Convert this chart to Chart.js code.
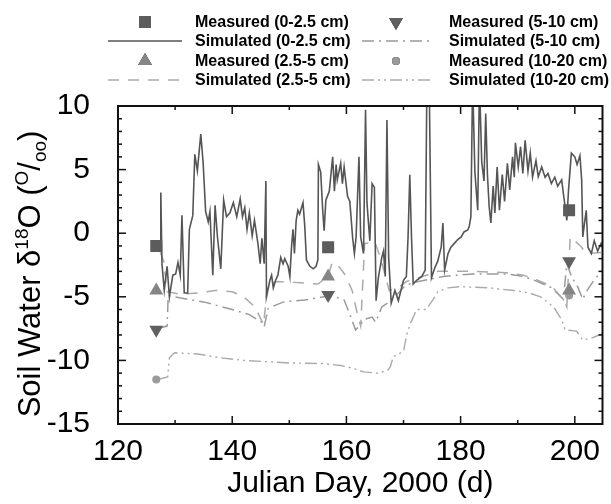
<!DOCTYPE html>
<html lang="en">
<head>
<meta charset="UTF-8">
<title>Soil Water d18O</title>
<script src="https://cdn.jsdelivr.net/npm/chart.js"></script>
<style>
  body { margin: 0; background: #fff; }
</style>
</head>
<body>
<canvas id="soilChart" width="611" height="504"></canvas>
<script>
// axis ticks
const xTicks = [120, 140, 160, 180, 200];
const yTicks = [-15, -10, -5, 0, 5, 10];

// measured values (three sampling days)
const measuredDays = [126.7, 156.8, 199.0];
const meas0to25 = [-1.0, -1.1, 1.8];
const meas25to5 = [-4.5, -3.4, -4.5];
const meas5to10 = [-7.6, -4.85, -2.2];
const meas10to20 = [-11.5, null, -4.9];

// simulated 0-2.5 cm
const sim0Days = [127.4,127.5,127.7,128.1,128.6,129.0,129.6,130.1,130.5,130.9,131.2,131.6,132.2,132.5,133.1,133.45,133.9,134.5,134.9,135.35,
  135.8,136.1,136.6,137.0,137.4,138.0,138.5,139.0,139.6,140.2,140.8,141.4,141.8,142.2,142.6,143.0,143.5,143.9,144.5,144.9,
  145.2,145.6,145.9,146.0,146.6,146.9,147.2,147.6,148.0,148.5,148.9,149.2,149.8,150.1,150.4,150.65,150.9,151.2,151.5,151.8,
  152.4,152.7,153.0,153.6,154.2,154.7,155.0,155.1,155.5,155.85,156.1,156.4,157.0,157.6,157.9,158.2,158.4,159.0,159.3,159.6,
  160.2,160.6,161.1,161.4,161.7,162.2,162.5,163.0,163.35,163.6,164.1,164.5,164.9,165.2,165.6,166.2,166.5,166.8,167.1,167.4,
  167.85,168.5,169.1,170.0,170.5,170.8,171.1,171.4,171.7,172.3,173.2,173.8,174.1,174.5,174.9,175.5,176.0,176.6,176.9,177.2,
  177.8,178.3,178.9,179.5,180.1,180.6,181.25,181.5,181.8,182.1,182.5,183.0,183.3,183.7,184.1,184.4,184.7,185.0,185.3,185.7,
  186.0,186.4,186.8,187.3,187.7,188.2,188.6,189.1,189.4,189.6,190.1,190.5,190.9,191.3,191.8,192.2,192.6,193.2,193.6,194.2,
  194.8,195.3,195.9,196.5,197.0,197.7,198.0,198.4,198.6,198.9,199.4,200.0,200.4,200.9,201.2,201.4,201.7,202.0,202.3,202.9,
  203.4,204.0,204.6,204.9];
const sim0Vals = [-1.0,3.2,-2.4,-4.5,-2.6,-5.0,-3.3,-3.2,-2.3,-3.3,1.4,-4.7,-4.7,0.3,1.4,6.2,4.9,7.8,5.6,1.7,
  0.9,1.7,-3.3,2.2,-0.2,-2.8,2.6,1.3,1.6,2.4,1.3,2.7,1.3,2.0,0.3,1.6,-0.2,1.0,-0.8,-2.4,
  -0.4,-2.4,4.1,-5.0,-3.7,-3.3,-4.3,-3.7,-3.3,-1.9,-2.4,-2.0,-2.6,-3.4,-1.0,0.3,-1.6,1.0,1.8,1.5,
  2.4,0.6,-2.1,-2.6,-2.8,-2.6,-2.1,5.4,4.8,1.8,0.2,2.6,3.3,6.0,3.3,5.4,4.2,5.5,3.9,5.2,
  2.9,2.5,-0.4,-1.6,-0.3,6.0,-0.3,-1.6,9.7,2.4,-0.6,3.9,3.6,-5.3,-3.5,-1.9,-1.4,-3.4,8.9,-1.9,
  -5.5,-4.5,-5.3,-3.7,-3.4,-0.3,4.6,-0.3,-4.0,-3.7,-3.4,-2.9,12,12,-3.5,-2.7,-2.2,-1.1,0.8,-2.9,
  -1.6,-1.1,-0.8,-0.5,-0.3,0.1,0.25,0.5,1.3,12,4.8,1.8,12,5.6,4.1,9.4,4.6,2.1,0.8,3.7,
  1.6,5.2,1.8,4.6,2.5,5.5,3.4,6.0,4.4,7.1,5.2,6.8,4.7,7.3,4.9,6.3,4.4,5.7,4.45,5.2,
  4.4,4.7,3.9,4.4,3.7,4.2,3.1,1.8,1.0,3.4,6.3,6.0,5.4,6.1,4.2,-0.3,0.8,1.8,-1.1,-1.6,
  -0.6,-1.4,-0.8,-1.2];

// simulated 2.5-5 cm
const sim25Days = [127.4,128.0,128.6,131,134,137,140,142,144,145.5,146.2,148,152,155,156.8,157.5,158.5,159.8,161,162,
  162.5,163.2,165,166,167.5,169,170.5,172,174,176,182,188,191,193.5,196,198,198.6,199.2,201,202,204.9];
const sim25Vals = [-1.5,-2.2,-4.6,-4.8,-4.7,-4.5,-4.6,-5.0,-5.8,-7.2,-4.0,-3.8,-3.9,-4.0,-3.4,-2.3,-2.5,-3.3,-4.5,-6.5,
  -7.3,-0.8,-0.7,-2.0,-4.5,-4.3,-3.8,-3.6,-3.3,-3.0,-3.0,-3.1,-3.3,-3.7,-4.2,-5.2,-5.8,-0.3,-1.0,-1.6,-1.5];

// simulated 5-10 cm
const sim5Days = [126.9,128.6,128.8,131,135,140,143,145.2,145.6,146.3,149,152.7,156,158,159.6,160.7,161.6,162.5,163,164.5,
  165.1,166.2,168,170.3,172.6,177,182,188,191,193.5,196,198,198.6,199.5,200.5,201.4,202,203.5,204.9];
const sim5Vals = [-7.5,-7.3,-4.9,-5.1,-5.4,-6.0,-6.4,-7.0,-7.35,-5.9,-5.4,-5.25,-5.0,-5.0,-5.25,-6.5,-7.6,-7.2,-6.8,-6.6,
  -7.0,-5.8,-5.25,-4.1,-3.8,-3.4,-3.2,-3.2,-3.4,-3.8,-4.3,-5.2,-2.4,-3.5,-4.2,-5.2,-4.6,-3.6,-2.9];

// simulated 10-20 cm
const sim10Days = [126.9,128.7,129.0,129.9,134,138,142,146,150,156,159,161,163,165.4,167.2,167.7,168.2,170,170.6,171.2,
  172.3,174,174.9,175.5,176,177.8,180,185,189.3,192,194,196.3,197.7,198.3,200.3,201.4,203.2,204.9];
const sim10Vals = [-11.5,-11.3,-9.8,-9.4,-9.5,-9.8,-10.0,-10.1,-10.2,-10.25,-10.4,-10.6,-10.9,-11.0,-10.8,-10.5,-9.7,-9.3,-7.9,-7.1,
  -6.0,-6.0,-5.4,-5.0,-4.6,-4.3,-4.2,-4.3,-4.5,-4.7,-5.0,-5.8,-6.8,-7.6,-7.7,-8.4,-8.2,-7.9];

const FONT = "'Liberation Sans', Arial, Helvetica, sans-serif";

function pts(days, vals) {
    return days.map((d, i) => ({ x: d, y: vals[i] }));
}

const datasets = [
    { label: 'Measured (0-2.5 cm)', data: pts(measuredDays, meas0to25), pointStyle: 'rect', pointRadius: 8.5,
      backgroundColor: '#5c5c5c', borderColor: '#5c5c5c', borderWidth: 0 },
    { label: 'Measured (2.5-5 cm)', data: pts(measuredDays, meas25to5), pointStyle: 'triangle', pointRadius: 8,
      backgroundColor: '#858585', borderColor: '#858585', borderWidth: 0 },
    { label: 'Measured (5-10 cm)', data: pts(measuredDays, meas5to10), pointStyle: 'triangle', pointRotation: 180, pointRadius: 8,
      backgroundColor: '#606060', borderColor: '#606060', borderWidth: 0 },
    { label: 'Measured (10-20 cm)', data: pts(measuredDays, meas10to20), pointStyle: 'circle', pointRadius: 4,
      backgroundColor: '#9a9a9a', borderColor: '#9a9a9a', borderWidth: 0 },
    { label: 'Simulated (0-2.5 cm)', data: pts(sim0Days, sim0Vals), showLine: true, pointRadius: 0,
      borderColor: '#555555', borderWidth: 1.6, clip: 1 },
    { label: 'Simulated (2.5-5 cm)', data: pts(sim25Days, sim25Vals), showLine: true, pointRadius: 0,
      borderColor: '#aaaaaa', borderWidth: 1.5, borderDash: [11, 9], clip: 1 },
    { label: 'Simulated (5-10 cm)', data: pts(sim5Days, sim5Vals), showLine: true, pointRadius: 0,
      borderColor: '#9a9a9a', borderWidth: 1.5, borderDash: [12, 5, 2, 5], clip: 1 },
    { label: 'Simulated (10-20 cm)', data: pts(sim10Days, sim10Vals), showLine: true, pointRadius: 0,
      borderColor: '#aaaaaa', borderWidth: 1.4, borderDash: [12, 4, 2, 4, 2, 4], clip: 1 }
];

// legend grid: [dataset index, column, row]
const legendLayout = [[0, 0, 0], [4, 0, 1], [1, 0, 2], [5, 0, 3], [2, 1, 0], [6, 1, 1], [3, 1, 2], [7, 1, 3]];

const legendPlugin = {
    id: 'gridLegend',
    afterDraw(chart) {
        const ctx = chart.ctx;
        const cols = [{ x0: 108, x1: 182, text: 195 }, { x0: 362, x1: 430, text: 449 }];
        const rows = [22, 41, 61, 80];
        ctx.save();
        legendLayout.forEach(([di, c, r]) => {
            const ds = chart.data.datasets[di];
            const col = cols[c];
            const y = rows[r];
            if (ds.showLine) {
                ctx.strokeStyle = ds.borderColor;
                ctx.lineWidth = ds.borderWidth;
                ctx.setLineDash(ds.borderDash || []);
                ctx.beginPath();
                ctx.moveTo(col.x0, y);
                ctx.lineTo(col.x1, y);
                ctx.stroke();
                ctx.setLineDash([]);
            } else {
                Chart.helpers.drawPoint(ctx, {
                    pointStyle: ds.pointStyle, rotation: ds.pointRotation || 0,
                    radius: ds.pointRadius, borderWidth: 0
                }, (col.x0 + col.x1) / 2, y);
                ctx.fillStyle = ds.backgroundColor;
                ctx.fill();
            }
            ctx.fillStyle = '#000';
            ctx.font = 'bold 16px ' + FONT;
            ctx.textAlign = 'left';
            ctx.textBaseline = 'middle';
            ctx.fillText(ds.label, col.text, y + 1);
        });
        ctx.restore();
    }
};

// frame with inward ticks on all four sides
const framePlugin = {
    id: 'frameTicks',
    afterDatasetsDraw(chart) {
        const { ctx, chartArea: a, scales: { x, y } } = chart;
        ctx.save();
        ctx.strokeStyle = '#111';
        ctx.lineWidth = 1.5;
        const line = (x1, y1, x2, y2) => { ctx.beginPath(); ctx.moveTo(x1, y1); ctx.lineTo(x2, y2); ctx.stroke(); };
        for (let v = xTicks[0]; v <= x.max; v += 10) {
            const px = x.getPixelForValue(v);
            const len = xTicks.includes(v) ? 8 : 4;
            line(px, a.bottom, px, a.bottom - len);
            line(px, a.top, px, a.top + len);
        }
        for (let v = yTicks[0]; v <= yTicks[yTicks.length - 1]; v += 1) {
            const py = y.getPixelForValue(v);
            const len = yTicks.includes(v) ? 8 : 4;
            line(a.left, py, a.left + len, py);
            line(a.right, py, a.right - len, py);
        }
        ctx.lineWidth = 2;
        ctx.strokeRect(a.left, a.top, a.right - a.left, a.bottom - a.top);
        ctx.restore();
    }
};

// rotated y title with super/subscripts
const yTitlePlugin = {
    id: 'yTitle',
    afterDraw(chart) {
        const ctx = chart.ctx;
        const size = 31;
        const parts = [
            { t: 'Soil Water \u03b4', s: 1, dy: 0 },
            { t: '18', s: 0.62, dy: -0.4 },
            { t: 'O (', s: 1, dy: 0 },
            { t: 'O', s: 0.6, dy: -0.4 },
            { t: '/', s: 1, dy: 0 },
            { t: 'oo', s: 0.6, dy: 0.18 },
            { t: ')', s: 1, dy: 0 }
        ];
        ctx.save();
        let total = 0;
        parts.forEach(p => {
            ctx.font = Math.round(size * p.s) + 'px ' + FONT;
            p.w = ctx.measureText(p.t).width;
            total += p.w;
        });
        ctx.translate(40, 274);
        ctx.rotate(-Math.PI / 2);
        ctx.fillStyle = '#000';
        ctx.textBaseline = 'alphabetic';
        ctx.textAlign = 'left';
        let cx = -total / 2;
        parts.forEach(p => {
            ctx.font = Math.round(size * p.s) + 'px ' + FONT;
            ctx.fillText(p.t, cx, p.dy * size);
            cx += p.w;
        });
        ctx.restore();
    }
};

new Chart(document.getElementById('soilChart'), {
    type: 'scatter',
    data: { datasets },
    options: {
        responsive: false,
        animation: false,
        layout: { padding: { top: 106, right: 3, left: 0, bottom: 0 } },
        plugins: {
            legend: { display: false },
            tooltip: { enabled: false }
        },
        scales: {
            x: {
                type: 'linear',
                min: 120,
                max: 204.85,
                afterFit: s => { s.height = 80; },
                afterBuildTicks: s => { s.ticks = xTicks.map(v => ({ value: v })); },
                grid: { display: false },
                border: { display: false },
                ticks: { color: '#000', padding: 2, font: { size: 30, family: FONT } },
                title: { display: true, text: 'Julian Day, 2000 (d)', color: '#000',
                         font: { size: 30, family: FONT }, padding: { top: 0, bottom: 2 } }
            },
            y: {
                min: -15,
                max: 10,
                afterFit: s => { s.width = 118; },
                afterBuildTicks: s => { s.ticks = yTicks.map(v => ({ value: v })); },
                grid: { display: false },
                border: { display: false },
                ticks: { color: '#000', padding: 20, font: { size: 30, family: FONT } }
            }
        }
    },
    plugins: [framePlugin, legendPlugin, yTitlePlugin]
});
</script>
</body>
</html>
